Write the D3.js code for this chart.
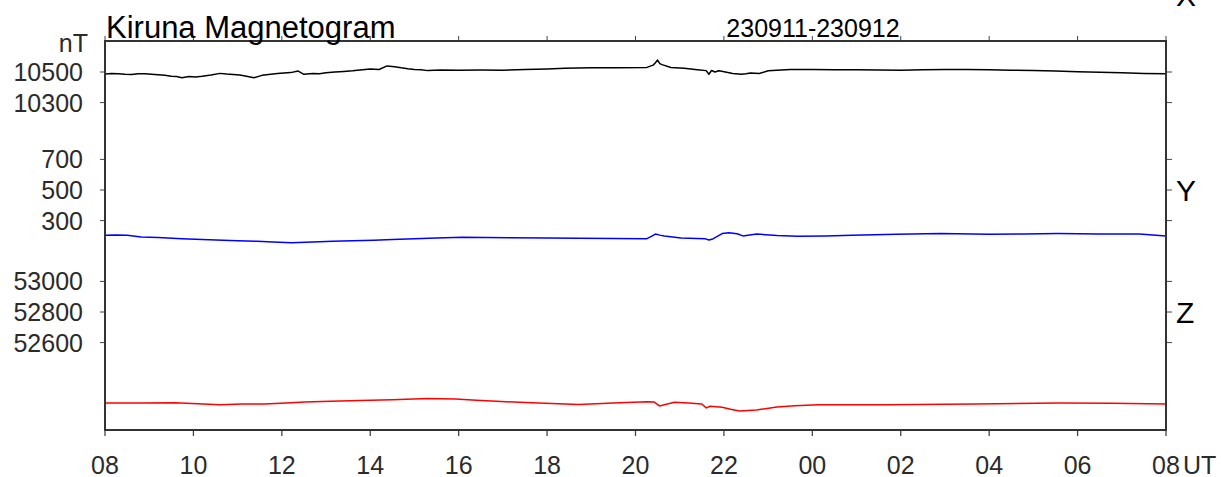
<!DOCTYPE html>
<html>
<head>
<meta charset="utf-8">
<script src="https://cdn.jsdelivr.net/npm/d3@7"></script>
<style>
    body { margin: 0; background: #fff; }
    svg text { font-family: "Liberation Sans", Arial, sans-serif; fill: #2b2b2b; }
</style>
</head>
<body>
<div id="chartContainer"></div>
<script>
// hours since 08 UT on 230911
var hourTicks = [0, 2, 4, 6, 8, 10, 12, 14, 16, 18, 20, 22, 24];
var hourLabels = ["08", "10", "12", "14", "16", "18", "20", "22", "00", "02", "04", "06", "08"];

// X component (nT)
var timesX = [0.00, 0.15, 0.30, 0.45, 0.60, 0.75, 0.90, 1.05, 1.20, 1.35, 1.50, 1.62, 1.74, 1.90, 2.05, 2.20, 2.40, 2.60, 2.75, 2.90,
    3.05, 3.20, 3.37, 3.55, 3.70, 3.90, 4.05, 4.20, 4.37, 4.50, 4.70, 4.85, 5.00, 5.20, 5.40, 5.60, 5.77, 6.00, 6.20, 6.38, 6.55,
    6.70, 6.85, 7.00, 7.15, 7.30, 7.60, 8.00, 8.50, 9.00, 9.50, 10.00, 10.40, 11.00, 11.60, 12.26, 12.35, 12.40, 12.45, 12.50,
    12.55, 12.60, 12.80, 13.10, 13.40, 13.60, 13.66, 13.72, 13.80, 13.88, 13.95, 14.20, 14.40, 14.50, 14.60, 14.80, 15.00, 15.50,
    16.00, 16.50, 17.00, 17.50, 18.00, 18.50, 19.00, 19.50, 20.00, 20.50, 21.00, 21.50, 22.00, 22.50, 23.00, 23.50, 24.00];
var valuesX = [10487, 10490, 10489, 10486, 10484, 10489, 10488, 10485, 10482, 10478, 10472, 10470, 10463, 10470, 10468, 10472, 10480, 10491, 10487, 10484,
    10480, 10472, 10463, 10478, 10483, 10490, 10494, 10496, 10506, 10485, 10490, 10488, 10495, 10500, 10504, 10508, 10513, 10520, 10516, 10540, 10535,
    10528, 10522, 10517, 10514, 10509, 10513, 10511, 10513, 10512, 10516, 10520, 10524, 10527, 10528, 10530, 10540, 10545, 10560, 10578,
    10555, 10548, 10530, 10524, 10515, 10509, 10485, 10510, 10500, 10508, 10505, 10490, 10485, 10488, 10494, 10490, 10508, 10516,
    10517, 10514, 10515, 10513, 10511, 10515, 10517, 10516, 10514, 10512, 10510, 10507, 10502, 10498, 10495, 10491, 10488];
var ticksX = [10500, 10300];

// Y component (nT)
var timesY = [0.00, 0.25, 0.50, 0.82, 1.20, 1.74, 2.20, 2.67, 3.00, 3.44, 3.80, 4.22, 4.70, 5.15, 5.60, 6.08, 6.50, 7.00, 7.50, 8.09,
    8.60, 9.16, 10.00, 10.72, 11.50, 12.26, 12.38, 12.45, 12.55, 12.65, 13.03, 13.57, 13.66, 13.75, 13.96, 14.11, 14.30, 14.43,
    14.74, 15.20, 15.67, 16.30, 16.90, 17.90, 18.90, 20.00, 20.80, 21.55, 22.50, 23.40, 24.00];
var valuesY = [204, 206, 204, 193, 190, 182, 176, 171, 168, 165, 160, 156, 160, 165, 168, 171, 176, 182, 186, 191,
    189, 188, 186, 184, 183, 182, 200, 212, 205, 200, 186, 182, 173, 180, 215, 221, 214, 200,
    212, 203, 197, 200, 204, 210, 215, 210, 213, 215, 213, 212, 200];
var ticksY = [700, 500, 300];

// Z component (nT)
var timesZ = [0.00, 0.80, 1.58, 2.10, 2.60, 3.10, 3.60, 4.10, 4.52, 5.10, 5.77, 6.50, 7.30, 7.93, 8.40, 8.86, 9.80, 10.72, 11.50,
    12.26, 12.42, 12.54, 12.88, 13.20, 13.50, 13.60, 13.69, 13.96, 14.15, 14.35, 14.74, 15.20, 15.60, 16.13, 17.68, 19.69, 21.55,
    22.78, 24.00];
var valuesZ = [52205, 52206, 52207, 52200, 52194, 52199, 52199, 52205, 52212, 52216, 52221, 52226, 52234, 52232, 52224, 52216, 52205, 52196, 52205,
    52214, 52212, 52186, 52210, 52205, 52199, 52173, 52184, 52177, 52165, 52153, 52160, 52179, 52187, 52194, 52194, 52199, 52205,
    52203, 52199];
var ticksZ = [53000, 52800, 52600];

const margin = {top: 41, right: 55, bottom: 47, left: 105};
const W = 1221, H = 477;
const width = W - margin.left - margin.right;
const height = H - margin.top - margin.bottom;

// same nT-per-pixel for every panel, each panel anchored on one tick
const half = 30.6; // pixels for 200 nT

function panelScale(anchor, anchorY) {
    return d3.scaleLinear()
        .domain([anchor - 200, anchor + 200])
        .range([anchorY + half, anchorY - half]);
}

const xScale = d3.scaleLinear().domain([0, 24]).range([0, width]);
const yX = panelScale(10500, 31);
const yY = panelScale(500, 149);
const yZ = panelScale(52800, 271);

const svg = d3.select("#chartContainer")
    .append("svg")
    .attr("width", W)
    .attr("height", H)
    .append("g")
    .attr("transform", `translate(${margin.left},${margin.top})`);

// traces
function drawTrace(times, values, yScale, color) {
    var pts = times.map((t, i) => [t, values[i]]);
    svg.append("path")
        .datum(pts)
        .attr("fill", "none")
        .attr("stroke", color)
        .attr("stroke-width", 1.5)
        .attr("stroke-linejoin", "round")
        .attr("d", d3.line().x(d => xScale(d[0])).y(d => yScale(d[1])));
}
drawTrace(timesX, valuesX, yX, "#000000");
drawTrace(timesY, valuesY, yY, "#0000ff");
drawTrace(timesZ, valuesZ, yZ, "#ff0000");

// bottom axis
var bottom = svg.append("g").attr("transform", `translate(0, ${height})`);
bottom.selectAll("line")
    .data(hourTicks)
    .join("line")
    .attr("x1", d => xScale(d)).attr("x2", d => xScale(d))
    .attr("y1", 0).attr("y2", 6)
    .attr("stroke", "#444").attr("stroke-width", 1.3);
bottom.selectAll("text")
    .data(hourTicks)
    .join("text")
    .attr("x", d => xScale(d))
    .attr("y", 44)
    .attr("text-anchor", "middle")
    .attr("font-size", 25)
    .text((d, i) => hourLabels[i]);
bottom.append("text")
    .attr("x", xScale(24) + 17)
    .attr("y", 44)
    .attr("font-size", 25)
    .text("UT");

// top ticks
svg.append("g").selectAll("line")
    .data(hourTicks)
    .join("line")
    .attr("x1", d => xScale(d)).attr("x2", d => xScale(d))
    .attr("y1", 0).attr("y2", -5)
    .attr("stroke", "#444").attr("stroke-width", 1);

// left / right ticks and labels per panel
function panelAxis(ticks, yScale, name, nameValue) {
    var g = svg.append("g");
    g.selectAll("line.l")
        .data(ticks)
        .join("line")
        .attr("class", "l")
        .attr("x1", -5).attr("x2", 0)
        .attr("y1", d => yScale(d)).attr("y2", d => yScale(d))
        .attr("stroke", "#444").attr("stroke-width", 1);
    g.selectAll("line.r")
        .data(ticks)
        .join("line")
        .attr("class", "r")
        .attr("x1", width).attr("x2", width + 6)
        .attr("y1", d => yScale(d)).attr("y2", d => yScale(d))
        .attr("stroke", "#444").attr("stroke-width", 1);
    g.selectAll("text")
        .data(ticks)
        .join("text")
        .attr("x", -22)
        .attr("y", d => yScale(d))
        .attr("dy", "0.36em")
        .attr("text-anchor", "end")
        .attr("font-size", 25)
        .text(d => d);
    g.append("text")
        .attr("x", width + 10)
        .attr("y", yScale(nameValue))
        .attr("dy", "0.36em")
        .attr("font-size", 30)
        .style("fill", "#000")
        .text(name);
}
panelAxis(ticksX, yX, "X", 11000);
panelAxis(ticksY, yY, "Y", 500);
panelAxis(ticksZ, yZ, "Z", 52800);

// frame
svg.append("rect")
    .attr("x", 0).attr("y", 0)
    .attr("width", width).attr("height", height)
    .attr("fill", "none")
    .attr("stroke", "#333")
    .attr("stroke-width", 2);

// titles
svg.append("text")
    .attr("x", 1).attr("y", -3)
    .attr("font-size", 31)
    .style("fill", "#000")
    .text("Kiruna Magnetogram");
svg.append("text")
    .attr("x", 708).attr("y", -4)
    .attr("text-anchor", "middle")
    .attr("font-size", 25)
    .style("fill", "#000")
    .text("230911-230912");
svg.append("text")
    .attr("x", -17).attr("y", 11)
    .attr("text-anchor", "end")
    .attr("font-size", 25)
    .text("nT");
</script>
</body>
</html>
